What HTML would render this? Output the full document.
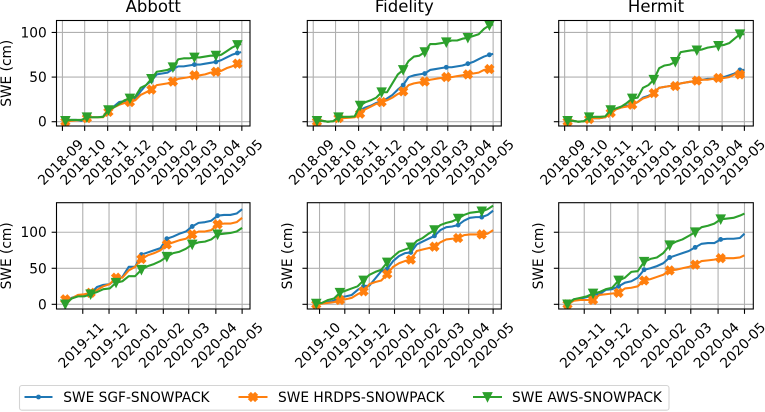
<!DOCTYPE html>
<html>
<head>
<meta charset="utf-8">
<title>SWE by site</title>
<style>
html,body{margin:0;padding:0;background:#fff;width:765px;height:412px;overflow:hidden}
svg{display:block}
text{font-family:"DejaVu Sans","Liberation Sans",sans-serif;fill:#000}
</style>
</head>
<body>
<svg id="figure" xmlns="http://www.w3.org/2000/svg" width="765" height="412" viewBox="0 0 765 412">
  <g id="plots"></g>
  <g>
    <rect x="19.5" y="385.5" width="649.5" height="24.7" rx="2.5" fill="#fff" stroke="#d4d4d4" stroke-width="1.1"/>
    <g>
      <line x1="24.5" x2="52.5" y1="397" y2="397" stroke="#1f77b4" stroke-width="2.08"/>
      <circle cx="38.5" cy="397" r="2.4" fill="#1f77b4"/>
      <text x="63.3" y="402" font-size="13.75">SWE SGF-SNOWPACK</text>
    </g>
    <g>
      <line x1="238.5" x2="267.5" y1="397" y2="397" stroke="#ff7f0e" stroke-width="2.08"/>
      <path transform="translate(253 397)" d="M-2.08,-4.17 0,-2.08 2.08,-4.17 4.17,-2.08 2.08,0 4.17,2.08 2.08,4.17 0,2.08 -2.08,4.17 -4.17,2.08 -2.08,0 -4.17,-2.08Z" fill="#ff7f0e" stroke="#ff7f0e" stroke-width="1.39"/>
      <text x="278" y="402" font-size="13.75">SWE HRDPS-SNOWPACK</text>
    </g>
    <g>
      <line x1="473" x2="502" y1="397" y2="397" stroke="#2ca02c" stroke-width="2.08"/>
      <path transform="translate(487.5 397)" d="M0,4.17 -4.17,-4.17 4.17,-4.17Z" fill="#2ca02c" stroke="#2ca02c" stroke-width="1.39"/>
      <text x="512" y="402" font-size="13.75">SWE AWS-SNOWPACK</text>
    </g>
  </g>
</svg>
<script>
// Tick labels
var ticks2018 = ['2018-09','2018-10','2018-11','2018-12','2019-01','2019-02','2019-03','2019-04','2019-05'];
var ticksFrom2019Nov = ['2019-11','2019-12','2020-01','2020-02','2020-03','2020-04','2020-05'];
var ticksFrom2019Oct = ['2019-10','2019-11','2019-12','2020-01','2020-02','2020-03','2020-04','2020-05'];
var yTicksRow1 = [0,50,100];
var yTicksRow2 = [0,50,100];

// Series values (cm): weekly-ish samples, final value is the last day of the record
var abbott2019Sgf = [0.5,2,2,1,4.5,5,5,5.5,14,17,22,23,25,26,34,41,46,53,54,55,59,62,62,63,64,64,65,66,67,69,72,75,77,78];
var abbott2019Hrdps = [0,1,1.5,2,4,5,5,5,11,16,19,21,22,24,30,33,36,41,42,43,45,48,49,50,52,52,53,55,56,57,60,62,65,66];
var abbott2019Aws = [1,2,2,2,5,5,5,5.5,13,16,20,24,26,28,38,41,48,56,57,58,61,70,71,71,72,72,73,74,74,75,79,83,86,87];

var fidelity2019Sgf = [1,1,0,0.5,4,4.5,5,6,13,16,18,21,23,26,30,36,41,50,52,53,54,58,59,60,61,61,62,63,65,67,70,73,75,76];
var fidelity2019Hrdps = [0,1,0,0.5,4,4,4.5,5,9,14,17,20,22,24,27,31,34,41,43,44,45,47,48,49,50,50,51,52,53,54,55,58,59,59];
var fidelity2019Aws = [1,1,0,0.5,5,5.5,5.5,6,18,22,24,27,33,33,43,53,58,68,73,74,78,87,87,88,89,91,91,93,94,96,98,104,108,109];

var hermit2019Sgf = [0,1,0,0.5,3.5,4,4,5,11,14,16,18,19,22,27,29,32,38,39,40,41,43,44,45,46,47,48,48,49,50,52,54,58,58];
var hermit2019Hrdps = [0,1,0,0.5,3,4,4,5,10,14,16,17,19,22,26,28,32,38,39,40,40,43,44,45,46,47,47,48,49,49,50,53,53,53];
var hermit2019Aws = [1,1,0,0.5,5,5.5,5.5,6,13,15,17,21,26,27,38,41,47,60,63,64,67,78,79,80,80,81,83,84,85,86,88,93,98,98];

var abbott2020Sgf = [3,9,12,13,15,24,27,28,35,38,52,52,69,72,75,78,91,94,98,101,108,113,114,116,123,124,124,126,132];
var abbott2020Hrdps = [7,8,13,14,16,20,25,28,37,37,47,52,63,68,71,75,83,86,89,91,97,101,101,103,111,112,112,114,120];
var abbott2020Aws = [0,8,11,11,14,17,21,22,30,32,39,39,48,53,56,60,66,71,73,77,83,86,87,90,97,98,99,101,106];

var fidelity2020Sgf = [1,1,3,5,10,11,13,20,25,26,36,46,49,60,67,71,72,83,87,91,95,103,107,108,110,116,120,121,121,124,130];
var fidelity2020Hrdps = [0,1,2,3,6,7,9,14,18,28,31,33,42,52,57,60,62,74,76,78,80,86,90,91,92,96,97,97,97,98,103];
var fidelity2020Aws = [1,2,6,8,16,19,22,25,33,41,45,48,58,66,73,76,79,88,92,98,103,110,113,115,119,124,127,128,129,132,137];

var hermit2020Sgf = [1,7,8,10,13,14,20,21,25,30,32,37,48,50,53,57,65,68,71,74,79,84,85,85,90,91,91,92,98];
var hermit2020Hrdps = [0,5,6,6,6,13,14,15,16,22,23,25,33,35,38,41,47,48,50,52,55,60,61,62,64,64,64,65,68];
var hermit2020Aws = [0,7,9,11,15,17,21,23,33,37,45,46,59,63,65,71,82,87,90,95,100,107,109,112,118,119,120,123,126];

// Layout and styling
var DAY = 86400000;
var SAMPLE_STEP_DAYS = 7.25;
var MARK_EVERY = 4;
var SVGNS = 'http://www.w3.org/2000/svg';
var TICK_FONT = 13.75, TITLE_FONT = 16.5, TICK_LEN = 4.86;
var TICK_LABEL_SHIFT = -2;
var COLORS = {sgf:'#1f77b4', hrdps:'#ff7f0e', aws:'#2ca02c'};

var panels = [
  {id:'abbott-2018-19', title:'Abbott', left:56.5, right:250, top:20.5, bottom:126, xMin:'2018-08-24', xMax:'2019-05-12', yMin:-4.8, yMax:113.4, start:'2018-09-05', end:'2019-04-30', ticks:ticks2018, yTicks:yTicksRow1, yLabels:true, yTitleX:7, sgf:abbott2019Sgf, hrdps:abbott2019Hrdps, aws:abbott2019Aws},
  {id:'fidelity-2018-19', title:'Fidelity', left:307.3, right:501.3, top:20.5, bottom:126, xMin:'2018-08-24', xMax:'2019-05-12', yMin:-4.8, yMax:113.4, start:'2018-09-06', end:'2019-05-01', ticks:ticks2018, yTicks:yTicksRow1, yLabels:false, sgf:fidelity2019Sgf, hrdps:fidelity2019Hrdps, aws:fidelity2019Aws},
  {id:'hermit-2018-19', title:'Hermit', left:558.7, right:753.3, top:20.5, bottom:126, xMin:'2018-08-24', xMax:'2019-05-13', yMin:-4.8, yMax:113.4, start:'2018-09-05', end:'2019-05-01', ticks:ticks2018, yTicks:yTicksRow1, yLabels:false, sgf:hermit2019Sgf, hrdps:hermit2019Hrdps, aws:hermit2019Aws},
  {id:'abbott-2019-20', title:'', left:56.5, right:250, top:202.7, bottom:309, xMin:'2019-10-02', xMax:'2020-05-10', yMin:-6.5, yMax:141, start:'2019-10-12', end:'2020-05-01', ticks:ticksFrom2019Nov, yTicks:yTicksRow2, yLabels:true, yTitleX:7, sgf:abbott2020Sgf, hrdps:abbott2020Hrdps, aws:abbott2020Aws},
  {id:'fidelity-2019-20', title:'', left:307.3, right:501.3, top:202.7, bottom:309, xMin:'2019-09-16', xMax:'2020-05-11', yMin:-6.5, yMax:141, start:'2019-09-27', end:'2020-05-01', ticks:ticksFrom2019Oct, yTicks:yTicksRow2, yLabels:false, yTitleX:288, sgf:fidelity2020Sgf, hrdps:fidelity2020Hrdps, aws:fidelity2020Aws},
  {id:'hermit-2019-20', title:'', left:558.7, right:753.3, top:202.7, bottom:309, xMin:'2019-10-03', xMax:'2020-05-11', yMin:-6.5, yMax:141, start:'2019-10-13', end:'2020-05-01', ticks:ticksFrom2019Nov, yTicks:yTicksRow2, yLabels:false, yTitleX:539, sgf:hermit2020Sgf, hrdps:hermit2020Hrdps, aws:hermit2020Aws}
];

function mk(tag, attrs, parent, txt) {
  var n = document.createElementNS(SVGNS, tag);
  for (var k in attrs) n.setAttribute(k, attrs[k]);
  if (txt !== undefined) n.textContent = txt;
  parent.appendChild(n);
  return n;
}
function toMs(s) { return Date.parse(s.length === 7 ? s + '-01T00:00:00Z' : s + 'T00:00:00Z'); }
function xAxis(p) {
  var a = toMs(p.xMin), b = toMs(p.xMax);
  return function (ms) { return p.left + (ms - a) / (b - a) * (p.right - p.left); };
}
function yAxis(p) {
  return function (v) { return p.bottom - (v - p.yMin) / (p.yMax - p.yMin) * (p.bottom - p.top); };
}
function sampleTime(p, i, n) {
  return i === n - 1 ? toMs(p.end) : toMs(p.start) + i * SAMPLE_STEP_DAYS * DAY;
}
function drawMarker(kind, g, cx, cy, color) {
  var m;
  if (kind === 'sgf') {
    m = mk('circle', {cx:cx, cy:cy, r:2.08, fill:color, stroke:color, 'stroke-width':0.7}, g);
  } else if (kind === 'hrdps') {
    m = mk('path', {transform:'translate(' + cx + ' ' + cy + ')', d:'M-2.08,-4.17 0,-2.08 2.08,-4.17 4.17,-2.08 2.08,0 4.17,2.08 2.08,4.17 0,2.08 -2.08,4.17 -4.17,2.08 -2.08,0 -4.17,-2.08Z', fill:color, stroke:color, 'stroke-width':1.39}, g);
  } else {
    m = mk('path', {transform:'translate(' + cx + ' ' + cy + ')', d:'M0,4.17 -4.17,-4.17 4.17,-4.17Z', fill:color, stroke:color, 'stroke-width':1.39}, g);
  }
  return m;
}

var root = document.getElementById('plots');
panels.forEach(function (p) {
  var x = xAxis(p), y = yAxis(p);
  var g = mk('g', {}, root);
  
  

  var clipId = 'clip-' + p.id;
  var defs = mk('defs', {}, g);
  var clip = mk('clipPath', {id:clipId}, defs);
  mk('rect', {x:p.left, y:p.top, width:p.right - p.left, height:p.bottom - p.top}, clip);

  if (p.title) {
    var title = mk('text', {x:(p.left + p.right) / 2, y:12, 'text-anchor':'middle', 'font-size':TITLE_FONT}, g, p.title);
    
    
  }

  // Grid and ticks
  p.ticks.forEach(function (t) {
    var px = x(toMs(t));
    var grid = mk('line', {x1:px, x2:px, y1:p.top, y2:p.bottom, stroke:'#b0b0b0', 'stroke-width':1.1}, g);
    
    
    var tick = mk('line', {x1:px, x2:px, y1:p.bottom, y2:p.bottom + TICK_LEN, stroke:'#000', 'stroke-width':1.1}, g);
    
    
    var cy = p.bottom + 36;
    var lx = px + TICK_LABEL_SHIFT;
    var lab = mk('text', {x:lx, y:cy + 5, 'text-anchor':'middle', 'font-size':TICK_FONT, transform:'rotate(-45 ' + lx + ' ' + cy + ')'}, g, t);
    
    
  });
  p.yTicks.forEach(function (v) {
    var py = y(v);
    var grid = mk('line', {x1:p.left, x2:p.right, y1:py, y2:py, stroke:'#b0b0b0', 'stroke-width':1.1}, g);
    
    
    var tick = mk('line', {x1:p.left - TICK_LEN, x2:p.left, y1:py, y2:py, stroke:'#000', 'stroke-width':1.1}, g);
    
    
    if (p.yLabels) {
      var lab = mk('text', {x:p.left - 9.7, y:py + 5, 'text-anchor':'end', 'font-size':TICK_FONT}, g, String(v));
      
      
    }
  });
  if (p.yTitleX) {
    var cy2 = (p.top + p.bottom) / 2;
    var yt = mk('text', {x:p.yTitleX, y:cy2, 'text-anchor':'middle', 'dominant-baseline':'central', 'font-size':TICK_FONT, transform:'rotate(-90 ' + p.yTitleX + ' ' + cy2 + ')'}, g, 'SWE (cm)');
    
    
  }

  // Series
  ['sgf', 'hrdps', 'aws'].forEach(function (kind) {
    var vals = p[kind], n = vals.length, color = COLORS[kind];
    var sg = mk('g', {'clip-path':'url(#' + clipId + ')'}, g);
    
    
    var pts = vals.map(function (v, i) {
      return x(sampleTime(p, i, n)).toFixed(2) + ',' + y(v).toFixed(2);
    }).join(' ');
    var line = mk('polyline', {points:pts, fill:'none', stroke:color, 'stroke-width':2.08, 'stroke-linejoin':'round'}, sg);
    
    
    vals.forEach(function (v, i) {
      if (i % MARK_EVERY !== 0 || i === n - 1) return;
      var m = drawMarker(kind, sg, x(sampleTime(p, i, n)), y(v), color);
      
      
    });
  });

  var frame = mk('rect', {x:p.left, y:p.top, width:p.right - p.left, height:p.bottom - p.top, fill:'none', stroke:'#000', 'stroke-width':1.1}, g);
  
  
});
</script>
</body>
</html>
